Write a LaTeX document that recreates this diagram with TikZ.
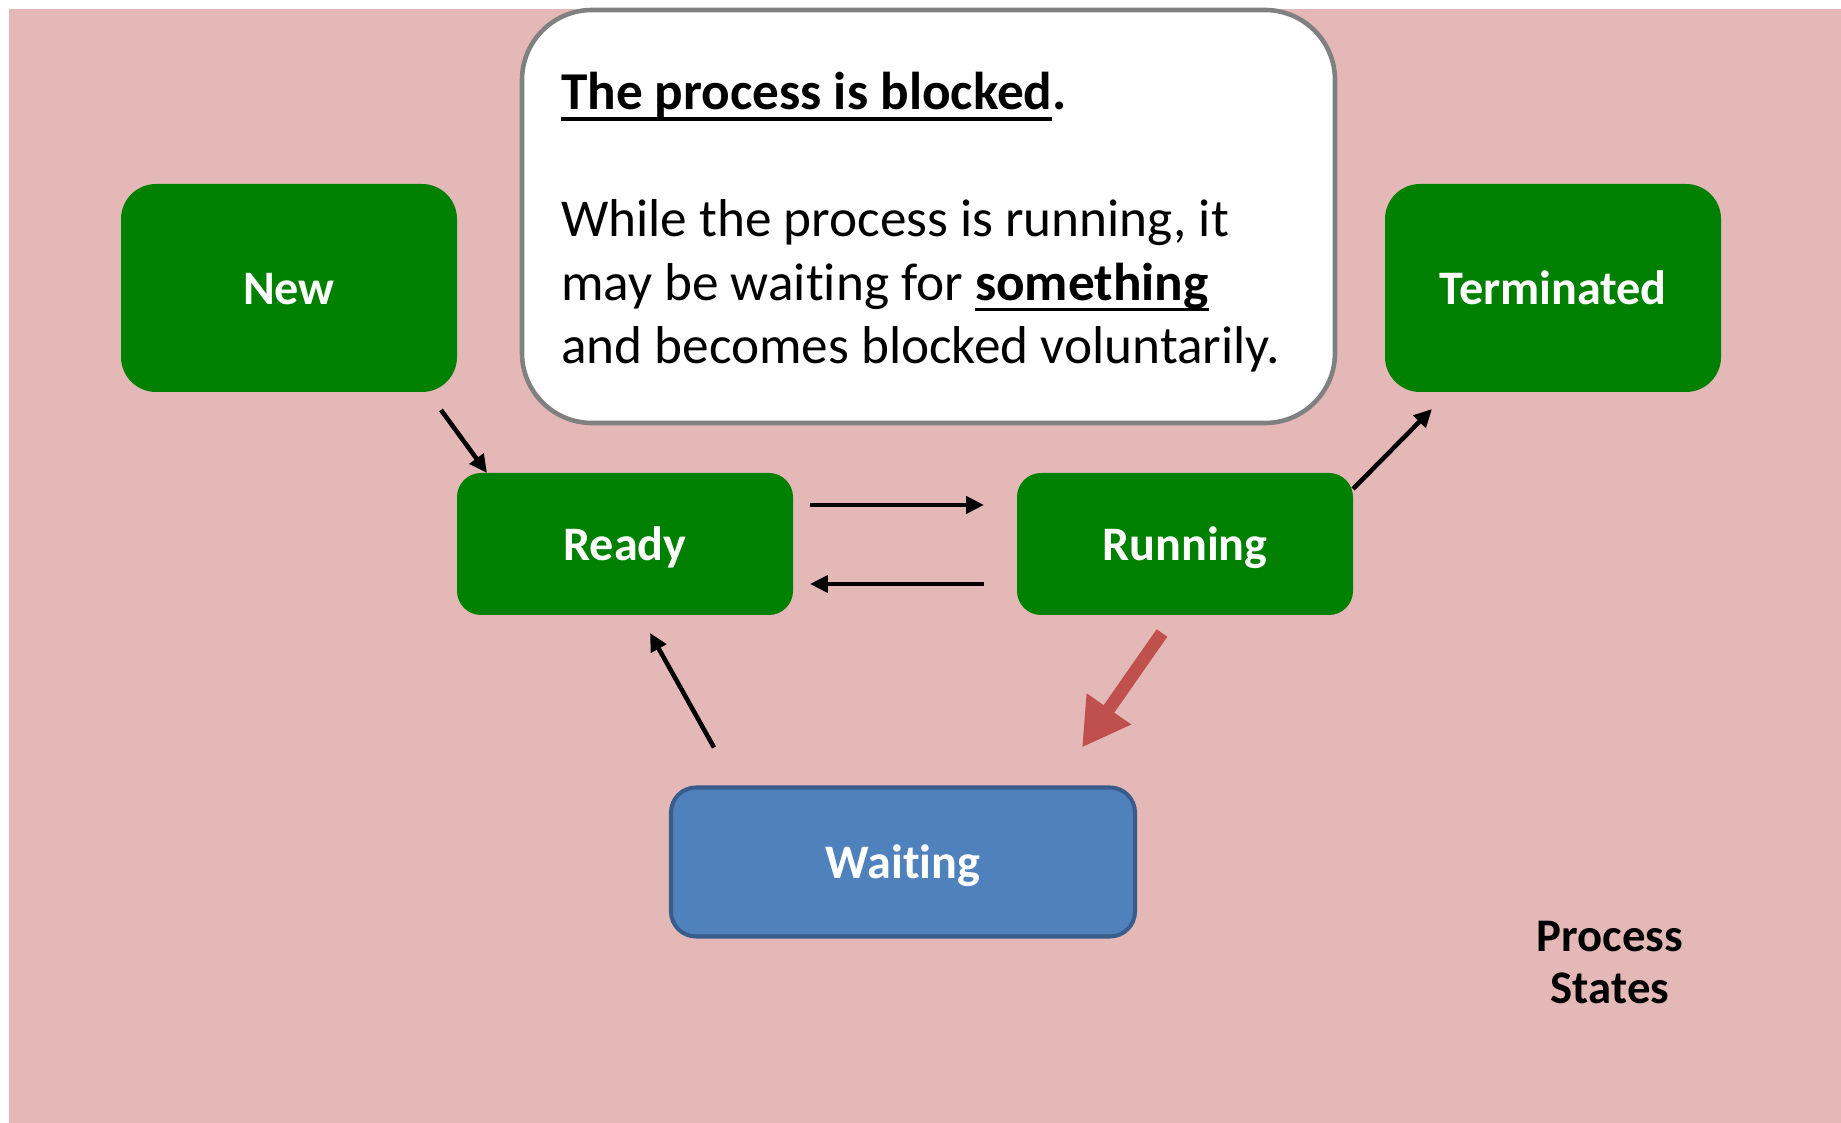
\documentclass[tikz,border=0pt]{standalone}
\usepackage{fontspec}
\setmainfont{Carlito}[Ligatures=NoCommon]
\usetikzlibrary{arrows.meta}
\usetikzlibrary{calc}

\definecolor{bgpink}{HTML}{E5B8B8}
\definecolor{stategreen}{HTML}{008000}
\definecolor{waitblue}{HTML}{4F81BD}
\definecolor{waitedge}{HTML}{385D8A}
\definecolor{blockred}{HTML}{C0504D}
\definecolor{calloutgrey}{HTML}{808080}

\newcommand{\ulin}[1]{\setbox0\hbox{#1}\rlap{\rule[-3.1pt]{\wd0}{1.1pt}}\box0}

\tikzset{
  state/.style={fill=stategreen, text=white, rounded corners=0.24cm, inner sep=0pt, outer sep=0pt,
    minimum width=3.36cm, minimum height=1.42cm, text height=9.4pt, text depth=0pt,
    font=\bfseries\fontsize{13.7}{16}\selectfont},
  bigstate/.style={state, minimum height=2.08cm, rounded corners=0.35cm},
  waitstate/.style={state, fill=waitblue, draw=waitedge, line width=1.15pt, rounded corners=0.25cm,
    minimum width=4.64cm, minimum height=1.49cm},
  callout/.style={fill=white, draw=calloutgrey, line width=1.3pt, rounded corners=0.7cm,
    minimum width=8.13cm, minimum height=4.13cm, inner sep=0pt, outer sep=0pt},
  arr/.style={line width=1.3pt, -{Triangle[length=5.1pt,width=4.8pt]}},
  blockarr/.style={blockred, line width=3.7pt, -{Triangle[length=13.4pt,width=14.5pt]}}
}

\begin{document}
\begin{tikzpicture}
  \useasboundingbox (0,0) rectangle (18.41,11.23);
  \fill[white] (0,0) rectangle (18.41,11.23);
  \fill[bgpink] (0.09,0) rectangle (18.41,11.14);

  \node[callout] (box) at (9.285,9.065) {};
  % base of a multi-line node is the baseline of its last line
  \node[anchor=base west, align=left, inner sep=0pt, font=\fontsize{15.15}{18.07}\selectfont] (note)
    at ([xshift=0.385cm,yshift=-3.54cm]box.north west)
    {\ulin{\textbf{The process is blocked}}\textbf{.}\\[18.07pt]
     While the process is running, it\\
     may be waiting for \ulin{\textbf{something}}\\
     and becomes blocked voluntarily.};

  \node[bigstate] (new) at (2.89,8.35) {New};
  \node[bigstate] (term) at (15.53,8.35) {Terminated};
  \node[state] (ready) at (6.25,5.79) {Ready};
  \node[state] (run) at (11.85,5.79) {Running};
  \node[waitstate] (wait) at (9.03,2.61) {Waiting};

  \node[align=center, anchor=base, font=\bfseries\fontsize{13.3}{14.8}\selectfont] (caption)
    at (16.10,1.19) {Process\\States};

  \path[arr] ([xshift=-0.16cm,yshift=-0.18cm]new.south east) edge ([xshift=0.30cm]ready.north west);
  \path[arr] ([xshift=0.17cm,yshift=0.39cm]ready.east) edge ([xshift=-0.33cm,yshift=0.39cm]run.west);
  \path[arr] ([xshift=-0.33cm,yshift=-0.40cm]run.west) edge ([xshift=0.17cm,yshift=-0.40cm]ready.east);
  \path[arr] ([yshift=-0.16cm]run.north east) edge ([xshift=0.47cm,yshift=-0.17cm]term.south west);
  \path[arr] ([xshift=0.43cm,yshift=0.40cm]wait.north west) edge ([xshift=0.25cm,yshift=-0.18cm]ready.south);

  \draw[blockarr] ([xshift=-0.23cm,yshift=-0.18cm]run.south) -- ([xshift=1.79cm,yshift=0.40cm]wait.north);
\end{tikzpicture}
\end{document}
